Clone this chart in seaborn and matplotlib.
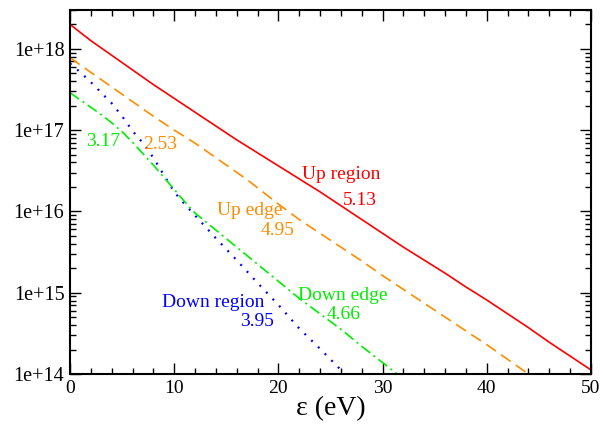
import numpy as np
import seaborn as sns
import matplotlib.pyplot as plt
from matplotlib.ticker import MultipleLocator, LogLocator, NullFormatter

# energy grid (eV) and log10 of the spectrum
eps_up_region = [0, 1, 2, 3, 4, 5, 6, 7, 8, 9, 10, 12, 14, 16, 18, 20, 22, 24,
                 26, 28, 30, 32, 34, 36, 38, 40, 42, 44, 46, 48, 50]
log_up_region = [18.30, 18.20, 18.10, 18.01, 17.92, 17.83, 17.74, 17.65, 17.56,
                 17.475, 17.39, 17.22, 17.05, 16.88, 16.72, 16.56, 16.40, 16.24,
                 16.07, 15.90, 15.73, 15.56, 15.40, 15.24, 15.07, 14.91, 14.74,
                 14.57, 14.39, 14.22, 14.05]

eps_up_edge = [0, 1, 2, 3, 4, 5, 6, 7, 8, 9, 10, 11, 12, 13, 14, 15, 16, 17, 18,
               19, 20, 22, 24, 26, 28, 30, 32, 34, 36, 38, 40, 42, 44]
log_up_edge = [17.89, 17.80, 17.71, 17.62, 17.53, 17.44, 17.35, 17.26, 17.17,
               17.085, 17.00, 16.92, 16.84, 16.75, 16.66, 16.57, 16.48, 16.39,
               16.29, 16.19, 16.09, 15.90, 15.73, 15.56, 15.39, 15.21, 15.04,
               14.87, 14.70, 14.53, 14.36, 14.18, 14.00]

eps_down_region = [0, 1, 2, 3, 4, 5, 6, 7, 8, 9, 10, 11, 12, 14, 16, 18, 20, 22,
                   24, 26, 26.4]
log_down_region = [17.82, 17.71, 17.59, 17.46, 17.33, 17.17, 16.99, 16.84, 16.66,
                   16.45, 16.24, 16.09, 15.95, 15.67, 15.40, 15.12, 14.85, 14.56,
                   14.31, 14.05, 14.00]

eps_down_edge = [0, 1, 2, 3, 4, 5, 6, 7, 8, 9, 10, 11, 12, 14, 16, 18, 20, 22,
                 24, 26, 28, 30, 31.4]
log_down_edge = [17.46, 17.37, 17.28, 17.19, 17.09, 16.98, 16.85, 16.71, 16.57,
                 16.42, 16.27, 16.12, 15.98, 15.77, 15.56, 15.35, 15.14, 14.93,
                 14.74, 14.55, 14.34, 14.14, 14.00]

y_ticks = [1e14, 1e15, 1e16, 1e17, 1e18]
y_tick_labels = ["1e+14", "1e+15", "1e+16", "1e+17", "1e+18"]

sns.set_theme(style="ticks")
plt.rcParams["font.family"] = ["Liberation Serif", "DejaVu Serif"]
plt.rcParams["lines.scale_dashes"] = False

fig = plt.figure(figsize=(6.03, 4.26), dpi=100)
ax = fig.add_axes([70 / 603, 1 - 374 / 426, 521 / 603, 364 / 426])

red, orange, blue, green = "#ff0000", "#ff8c00", "#0000ff", "#00ee00"

sns.lineplot(x=eps_up_region, y=10 ** np.array(log_up_region), ax=ax,
             color=red, lw=1.2, errorbar=None)
sns.lineplot(x=eps_up_edge, y=10 ** np.array(log_up_edge), ax=ax,
             color=orange, lw=1.2, linestyle=(0, (8.5, 4.5)), errorbar=None)
sns.lineplot(x=eps_down_region, y=10 ** np.array(log_down_region), ax=ax,
             color=blue, lw=1.6, linestyle=(0, (1.4, 5.4)), errorbar=None)
sns.lineplot(x=eps_down_edge, y=10 ** np.array(log_down_edge), ax=ax,
             color=green, lw=1.2, linestyle=(0, (8, 3, 1.5, 3)), errorbar=None)

ax.set_yscale("log")
ax.set_xlim(0, 50)
ax.set_ylim(1e14, 3e18)

# curve labels
fs = 14
ax.text(22.3, 10 ** 16.40, "Up region", color=red, fontsize=fs)
ax.text(26.2, 10 ** 16.08, "5.13", color=red, fontsize=fs)
ax.text(14.1, 10 ** 15.95, "Up edge", color=orange, fontsize=fs)
ax.text(18.3, 10 ** 15.71, "4.95", color=orange, fontsize=fs)
ax.text(8.8, 10 ** 14.82, "Down region", color=blue, fontsize=fs)
ax.text(16.3, 10 ** 14.59, "3.95", color=blue, fontsize=fs)
ax.text(21.9, 10 ** 14.91, "Down edge", color=green, fontsize=fs)
ax.text(24.6, 10 ** 14.68, "4.66", color=green, fontsize=fs)
ax.text(1.5, 10 ** 16.81, "3.17", color=green, fontsize=fs)
ax.text(7.0, 10 ** 16.77, "2.53", color=orange, fontsize=fs)

# axes and ticks
ax.xaxis.set_major_locator(MultipleLocator(10))
ax.xaxis.set_minor_locator(MultipleLocator(2))
ax.set_yticks(y_ticks)
ax.set_yticklabels(y_tick_labels)
ax.yaxis.set_minor_locator(LogLocator(base=10, subs=np.arange(2, 10)))
ax.yaxis.set_minor_formatter(NullFormatter())
ax.tick_params(which="both", direction="in", top=True, right=True,
               color="black", width=1, labelsize=14, labelcolor="black")
ax.tick_params(axis="y", labelsize=14.5)
ax.tick_params(which="major", length=8, pad=4)
ax.tick_params(which="minor", length=4)
for s in ax.spines.values():
    s.set_linewidth(1.5)
    s.set_color("black")

ax.set_xlabel("ε (eV)", fontsize=20, labelpad=0, color="black")
ax.set_ylabel("")

plt.savefig("out.png", dpi=100)
